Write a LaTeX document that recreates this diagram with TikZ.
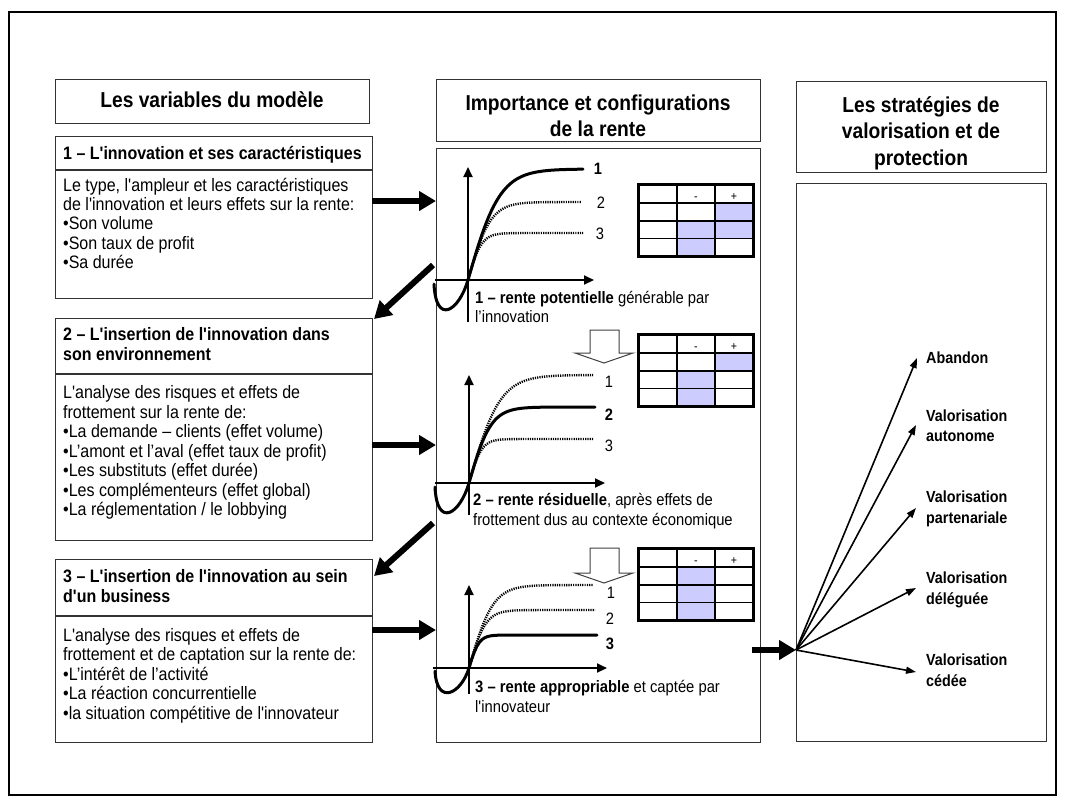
\documentclass[tikz,border=0pt]{standalone}
\usepackage{fontspec}
\newfontfamily\arialx{Liberation Sans}[FakeStretch=0.89]
\usetikzlibrary{arrows.meta}
\definecolor{cellblue}{HTML}{CCCCFF}
\begin{document}
\begin{tikzpicture}[x=1pt,y=-1pt,
  declare function={sat(\u,\k)=tanh(min(\u/\k,6));},
  box/.style={draw=black!80, line width=1.3pt, inner sep=0pt, anchor=north west},
  body/.style={inner sep=0pt, anchor=base west, font=\arialx\fontsize{18}{19.4}\selectfont},
  bhead/.style={inner sep=0pt, anchor=base west, font=\arialx\fontsize{18}{19.4}\selectfont\bfseries},
  colhead/.style={inner sep=0pt, anchor=base, font=\arialx\fontsize{21.6}{26}\selectfont\bfseries},
  captxt/.style={inner sep=0pt, anchor=base west, font=\arialx\fontsize{16.6}{20}\selectfont},
  num/.style={inner sep=0pt, anchor=center, font=\arialx\fontsize{16.5}{18}\selectfont},
  numb/.style={inner sep=0pt, anchor=center, font=\arialx\fontsize{16.5}{18}\selectfont\bfseries},
  strat/.style={inner sep=0pt, anchor=base west, font=\arialx\fontsize{16.1}{20}\selectfont\bfseries},
  sign/.style={inner sep=0pt, anchor=base, font=\arialx\fontsize{12}{12}\selectfont},
  bigarrow/.style={line width=6pt, -{Triangle[length=17pt,width=19pt]}},
  axisarrow/.style={line width=2pt, -{Triangle[length=10pt,width=9pt]}},
  solidcurve/.style={line width=3pt, line cap=round},
  dotcurve/.style={line width=2.4pt, dash pattern=on 1.2pt off 1.1pt},
  fanarrow/.style={line width=1.6pt, -{Triangle[length=10pt,width=7pt]}},
  hollow/.style={draw=black!75, line width=1pt, fill=white},
  thinline/.style={line width=1.2pt},
  thickframe/.style={line width=3pt}
]
\useasboundingbox (0,0) rectangle (1065,807);
\fill[white] (0,0) rectangle (1065,807);
\draw[line width=2pt] (9,12) rectangle (1056,795);

% ---------- left column ----------
\node[box, minimum width=314pt, minimum height=44pt] (lh) at (55,79) {};
\node[colhead] (lht) at (212,107) {Les variables du modèle};

\node[box, minimum width=317pt, minimum height=162pt] (b1) at (55,136) {};
\draw[box] (55,170) -- (372,170);
\node[bhead] (b1h) at (63,159.5) {1 – L'innovation et ses caractéristiques};
\node[body] (b1l1) at (63,191) {Le type, l'ampleur et les caractéristiques};
\node[body] (b1l2) at (63,210.4) {de l'innovation et leurs effets sur la rente:};
\node[body] (b1l3) at (63,229.8) {•Son volume};
\node[body] (b1l4) at (63,249.2) {•Son taux de profit};
\node[body] (b1l5) at (63,268.6) {•Sa durée};

\node[box, minimum width=317pt, minimum height=222pt] (b2) at (55,318) {};
\draw[box] (55,374) -- (372,374);
\node[bhead] (b2h1) at (63,340.5) {2 – L'insertion de l'innovation dans};
\node[bhead] (b2h2) at (63,360.5) {son environnement};
\node[body] (b2l1) at (63,398.5) {L'analyse des risques et effets de};
\node[body] (b2l2) at (63,418) {frottement sur la rente de:};
\node[body] (b2l3) at (63,437.5) {•La demande – clients (effet volume)};
\node[body] (b2l4) at (63,457) {•L’amont et l’aval (effet taux de profit)};
\node[body] (b2l5) at (63,476.5) {•Les substituts (effet durée)};
\node[body] (b2l6) at (63,496) {•Les complémenteurs (effet global)};
\node[body] (b2l7) at (63,515.5) {•La réglementation / le lobbying};

\node[box, minimum width=317pt, minimum height=183pt] (b3) at (55,559) {};
\draw[box] (55,616) -- (372,616);
\node[bhead] (b3h1) at (63,582.5) {3 – L'insertion de l'innovation au sein};
\node[bhead] (b3h2) at (63,602.5) {d'un business};
\node[body] (b3l1) at (63,641) {L'analyse des risques et effets de};
\node[body] (b3l2) at (63,660.5) {frottement et de captation sur la rente de:};
\node[body] (b3l3) at (63,680) {•L’intérêt de l’activité};
\node[body] (b3l4) at (63,699.5) {•La réaction concurrentielle};
\node[body] (b3l5) at (63,719) {•la situation compétitive de l'innovateur};

% ---------- middle column ----------
\node[box, minimum width=324pt, minimum height=62pt] (mh) at (436,79) {};
\node[colhead] (mht1) at (598,110) {Importance et configurations};
\node[colhead] (mht2) at (598,136) {de la rente};
\node[box, minimum width=324pt, minimum height=594pt] (mb) at (436,148) {};

% ---------- right column ----------
\node[box, minimum width=250pt, minimum height=91pt] (rh) at (796,81) {};
\node[colhead] (rht1) at (921,112) {Les stratégies de};
\node[colhead] (rht2) at (921,138.5) {valorisation et de};
\node[colhead] (rht3) at (921,165) {protection};
\node[box, minimum width=250pt, minimum height=558pt] (rb) at (796,183) {};

% ---------- tables ----------
\begin{scope}[shift={(0,184)}]
  \fill[cellblue] (715,19) rectangle (753,37) (677,37) rectangle (753,54.5) (677,54.5) rectangle (715,72);
  \draw[thinline] (677,0) -- (677,72) (715,0) -- (715,72) (638,19) -- (753,19) (638,37) -- (753,37) (638,54.5) -- (753,54.5);
  \draw[thickframe] (638,0) rectangle (753,72);
  \node[sign] (t1m) at (696,16.5) {-};
  \node[sign] (t1p) at (734,16.5) {+};
\end{scope}
\begin{scope}[shift={(0,334)}]
  \fill[cellblue] (715,19) rectangle (753,37) (677,37) rectangle (715,72);
  \draw[thinline] (677,0) -- (677,72) (715,0) -- (715,72) (638,19) -- (753,19) (638,37) -- (753,37) (638,54.5) -- (753,54.5);
  \draw[thickframe] (638,0) rectangle (753,72);
  \node[sign] (t2m) at (696,16.5) {-};
  \node[sign] (t2p) at (734,16.5) {+};
\end{scope}
\begin{scope}[shift={(0,548)}]
  \fill[cellblue] (677,19) rectangle (715,72);
  \draw[thinline] (677,0) -- (677,72) (715,0) -- (715,72) (638,19) -- (753,19) (638,37) -- (753,37) (638,54.5) -- (753,54.5);
  \draw[thickframe] (638,0) rectangle (753,72);
  \node[sign] (t3m) at (696,16.5) {-};
  \node[sign] (t3p) at (734,16.5) {+};
\end{scope}

% ---------- hollow arrows ----------
\draw[hollow] (590,330) -- (619,330) -- (619,353) -- (633,353) -- (604,363) -- (575,353) -- (590,353) -- cycle;
\draw[hollow] (590,548) -- (619,548) -- (619,573) -- (633,573) -- (604,583) -- (575,573) -- (590,573) -- cycle;

% ---------- graph 1 ----------
\begin{scope}[shift={(468,280)}]
  \draw[axisarrow] (0,42) -- (0,-113);
  \draw[axisarrow] (-33,0) -- (126,0);
  \draw[dotcurve] plot[domain=0:113,samples=50] (\x,{-78*sat(\x,22.5)});
  \draw[dotcurve] plot[domain=0:115,samples=50] (\x,{-47*sat(\x,13.5)});
  \draw[solidcurve] (-34,4) .. controls (-32,46) and (-9,31) .. (0,0) -- plot[domain=0:115,samples=50] (\x,{-111*sat(\x,32)});
  \node[numb] (g1n1) at (130,-111) {1};
  \node[num] (g1n2) at (133,-77) {2};
  \node[num] (g1n3) at (132,-46) {3};
\end{scope}
\node[captxt] (c1a) at (475,303) {\textbf{1 – rente potentielle} générable par};
\node[captxt] (c1b) at (475,322) {l’innovation};

% ---------- graph 2 ----------
\begin{scope}[shift={(469,483)}]
  \draw[axisarrow] (0,32) -- (0,-108);
  \draw[axisarrow] (-34,0) -- (136,0);
  \draw[dotcurve] plot[domain=0:124,samples=50] (\x,{-108*sat(\x,31)});
  \draw[dotcurve] plot[domain=0:124,samples=50] (\x,{-44*sat(\x,12.7)});
  \draw[solidcurve] (-34,4) .. controls (-32,46) and (-9,31) .. (0,0) -- plot[domain=0:126,samples=50] (\x,{-76*sat(\x,22)});
  \node[num] (g2n1) at (140,-101) {1};
  \node[numb] (g2n2) at (140,-68) {2};
  \node[num] (g2n3) at (140,-37) {3};
\end{scope}
\node[captxt] (c2a) at (473,505) {\textbf{2 – rente résiduelle}, après effets de};
\node[captxt] (c2b) at (473,525) {frottement dus au contexte économique};

% ---------- graph 3 ----------
\begin{scope}[shift={(469,668)}]
  \draw[axisarrow] (0,26) -- (0,-83);
  \draw[axisarrow] (-36,0) -- (138,0);
  \draw[dotcurve] plot[domain=0:124,samples=50] (\x,{-83*sat(\x,24)});
  \draw[dotcurve] plot[domain=0:126,samples=50] (\x,{-58*sat(\x,16.7)});
  \draw[solidcurve] (-34,3) .. controls (-32,38) and (-8,26) .. (0,0) -- plot[domain=0:128,samples=50] (\x,{-33*sat(\x,10)});
  \node[num] (g3n1) at (142,-75) {1};
  \node[num] (g3n2) at (141,-49) {2};
  \node[numb] (g3n3) at (141,-24) {3};
\end{scope}
\node[captxt] (c3a) at (475,692) {\textbf{3 – rente appropriable} et captée par};
\node[captxt] (c3b) at (475,712) {l'innovateur};

% ---------- thick arrows ----------
\coordinate (a1s) at (372,201);  \coordinate (a1e) at (436,201);
\coordinate (d1s) at (433,265);  \coordinate (d1e) at (374,319);
\coordinate (a2s) at (372,445);  \coordinate (a2e) at (436,445);
\coordinate (d2s) at (433,523);  \coordinate (d2e) at (374,576);
\coordinate (a3s) at (372,630);  \coordinate (a3e) at (436,630);
\coordinate (mo) at (752,650);
\coordinate (fo) at (796,650);
\draw[bigarrow] (a1s) -- (a1e);
\draw[bigarrow] (d1s) -- (d1e);
\draw[bigarrow] (a2s) -- (a2e);
\draw[bigarrow] (d2s) -- (d2e);
\draw[bigarrow] (a3s) -- (a3e);
\draw[bigarrow] (mo) -- (fo);

% ---------- fan ----------
\coordinate (f1) at (917,358);
\coordinate (f2) at (916,425);
\coordinate (f3) at (916,508);
\coordinate (f4) at (916,588);
\coordinate (f5) at (916,672);
\foreach \t in {f1,f2,f3,f4,f5} \draw[fanarrow] (fo) -- (\t);
\node[strat] (s1) at (926,363) {Abandon};
\node[strat] (s2a) at (926,421) {Valorisation};
\node[strat] (s2b) at (926,441) {autonome};
\node[strat] (s3a) at (926,502) {Valorisation};
\node[strat] (s3b) at (926,523) {partenariale};
\node[strat] (s4a) at (926,583) {Valorisation};
\node[strat] (s4b) at (926,604) {déléguée};
\node[strat] (s5a) at (926,665) {Valorisation};
\node[strat] (s5b) at (926,686) {cédée};
\end{tikzpicture}
\end{document}
